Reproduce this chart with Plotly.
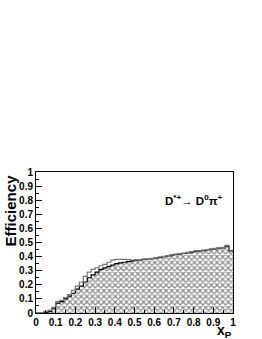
import numpy as np
import plotly.graph_objects as go

n_bins = 50
edges = np.linspace(0, 1, n_bins + 1)

# Efficiency, hatched histogram (black outline)
eff_hatched = [0, 0, 0.005, 0.01, 0.03, 0.07, 0.08, 0.10, 0.12, 0.14,
               0.17, 0.19, 0.22, 0.25, 0.27, 0.29, 0.31, 0.32, 0.33, 0.34,
               0.35, 0.355, 0.36, 0.365, 0.37, 0.375, 0.377, 0.38, 0.383, 0.386,
               0.39, 0.395, 0.40, 0.405, 0.41, 0.415, 0.418, 0.422, 0.427, 0.432,
               0.437, 0.44, 0.443, 0.448, 0.452, 0.455, 0.46, 0.462, 0.475, 0.44]
# Efficiency, open histogram (gray outline)
eff_open = [0, 0, 0.01, 0.02, 0.04, 0.08, 0.09, 0.11, 0.13, 0.16,
            0.19, 0.22, 0.26, 0.29, 0.31, 0.32, 0.335, 0.345, 0.36, 0.375,
            0.38, 0.38, 0.38, 0.378, 0.376, 0.377, 0.379, 0.382, 0.385, 0.388,
            0.392, 0.397, 0.402, 0.407, 0.412, 0.417, 0.42, 0.425, 0.43, 0.435,
            0.44, 0.443, 0.446, 0.45, 0.455, 0.458, 0.462, 0.465, 0.48, 0.445]

x_ticks = [0, 0.1, 0.2, 0.3, 0.4, 0.5, 0.6, 0.7, 0.8, 0.9, 1]
x_tick_text = ["0", "0.1", "0.2", "0.3", "0.4", "0.5", "0.6", "0.7", "0.8", "0.9", "1"]
y_ticks = [0, 0.1, 0.2, 0.3, 0.4, 0.5, 0.6, 0.7, 0.8, 0.9, 1]
y_tick_text = ["0", "0.1", "0.2", "0.3", "0.4", "0.5", "0.6", "0.7", "0.8", "0.9", "1"]

def step(vals):
    xs = list(edges[:-1]) + [edges[-1]]
    ys = list(vals) + [vals[-1]]
    return xs, ys

FONT = "Liberation Sans"

fig = go.Figure()
xh, yh = step(eff_hatched)
fig.add_trace(go.Scatter(
    x=xh, y=yh, mode="lines", line=dict(shape="hv", color="black", width=1.2),
    fill="tozeroy", fillcolor="white",
    fillpattern=dict(shape="x", fgcolor="#111111", bgcolor="white", size=4, solidity=0.5),
    showlegend=False, hoverinfo="skip"))
xo, yo = step(eff_open)
fig.add_trace(go.Scatter(
    x=xo, y=yo, mode="lines", line=dict(shape="hv", color="#777777", width=1.2),
    showlegend=False, hoverinfo="skip"))

axis_common = dict(
    showgrid=False, zeroline=False, showline=True, linecolor="black", linewidth=1,
    mirror=True, ticks="inside", ticklen=6, tickcolor="black", tickwidth=1,
    automargin=False,
    tickfont=dict(family=FONT, size=10, color="black", weight="bold"),
)
fig.update_xaxes(range=[0, 1], tickvals=x_ticks, ticktext=x_tick_text,
                 minor=dict(ticks="inside", ticklen=3, nticks=5, tickcolor="black"),
                 ticklabelstandoff=0, **axis_common)
fig.update_yaxes(range=[0, 1], tickvals=y_ticks, ticktext=y_tick_text,
                 minor=dict(ticks="inside", ticklen=3, nticks=5, tickcolor="black"),
                 **axis_common)

fig.add_annotation(text="Efficiency", textangle=-90, xref="paper", yref="paper",
                   x=-0.13, y=1.0, xanchor="center", yanchor="top", showarrow=False,
                   font=dict(family=FONT, size=15, color="black", weight="bold"))
fig.add_annotation(text="x<sub>P</sub>", xref="paper", yref="paper",
                   x=0.955, y=-0.2, xanchor="center", yanchor="bottom", showarrow=False,
                   borderpad=0,
                   font=dict(family=FONT, size=14, color="black", weight="bold"))
fig.add_annotation(text="D<sup>*+</sup>→ D<sup>0</sup>π<sup>+</sup>", xref="paper", yref="paper",
                   x=0.8, y=0.80, xanchor="center", yanchor="middle", showarrow=False,
                   font=dict(family=FONT, size=11.5, color="black", weight="bold"))

fig.update_layout(
    width=262, height=339,
    margin=dict(l=36, r=29, t=172, b=26),
    paper_bgcolor="white", plot_bgcolor="white",
)
fig.write_html("out.html", config={"displayModeBar": False},
               post_script="document.body.style.margin='0';")
